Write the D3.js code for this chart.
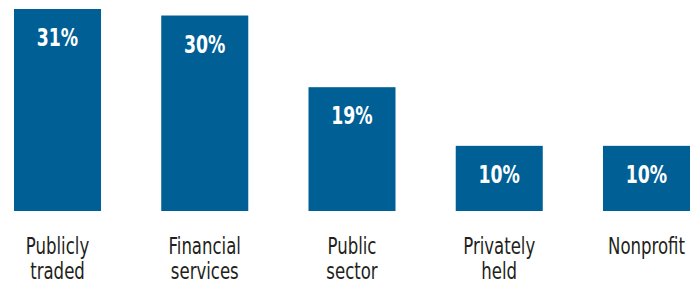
<!DOCTYPE html>
<html>
<head>
<meta charset="utf-8">
<script src="https://cdn.jsdelivr.net/npm/d3@7"></script>
<style>
  html, body { margin: 0; padding: 0; background: #fff; }
  svg { display: block; }
  text { font-family: "DejaVu Sans Condensed", "DejaVu Sans", sans-serif; }
</style>
</head>
<body>
<svg id="chart"></svg>
<script>
// Share of respondents by organisation type
const categories = ["Publicly traded", "Financial services", "Public sector", "Privately held", "Nonprofit"];
const labelLines = [["Publicly", "traded"], ["Financial", "services"], ["Public", "sector"], ["Privately", "held"], ["Nonprofit"]];
const values = [31, 30, 19, 10, 10];

const WIDTH = 700;
const HEIGHT = 284;
const BAR_COLOR = "#006096";
const TEXT_COLOR = "#231f20";
const SQUEEZE = 0.8; // the source font is a narrow gothic, squeeze the fallback

const svg = d3.select("#chart").attr("width", WIDTH).attr("height", HEIGHT);

const x = d3.scaleBand()
  .domain(categories)
  .range([14, 690])
  .paddingInner(0.409)
  .paddingOuter(0);

const y = d3.scaleLinear()
  .domain([0, 31])
  .range([211, 9]);

const cx = (c) => x(c) + x.bandwidth() / 2;

const bars = svg.append("g").selectAll("g")
  .data(categories.map((c, i) => ({ cat: c, value: values[i], lines: labelLines[i] })))
  .join("g");

bars.append("rect")
  .attr("x", (d) => x(d.cat))
  .attr("y", (d) => y(d.value))
  .attr("width", x.bandwidth())
  .attr("height", (d) => y(0) - y(d.value))
  .attr("fill", BAR_COLOR);

// value label inside the top of each bar
bars.append("text")
  .attr("transform", (d) => "translate(" + cx(d.cat) + "," + (y(d.value) + 37) + ") scale(" + SQUEEZE + ",1)")
  .attr("text-anchor", "middle")
  .attr("font-size", "24px")
  .attr("font-weight", "bold")
  .attr("fill", "#fff")
  .text((d) => d.value + "%");

// category labels below the bars
bars.each(function(d) {
  const g = d3.select(this);
  d.lines.forEach((line, i) => {
    g.append("text")
      .attr("transform", "translate(" + cx(d.cat) + "," + (254 + i * 25) + ") scale(" + SQUEEZE + ",1)")
      .attr("text-anchor", "middle")
      .attr("font-size", "23px")
      .attr("fill", TEXT_COLOR)
      .text(line);
  });
});
</script>
</body>
</html>
